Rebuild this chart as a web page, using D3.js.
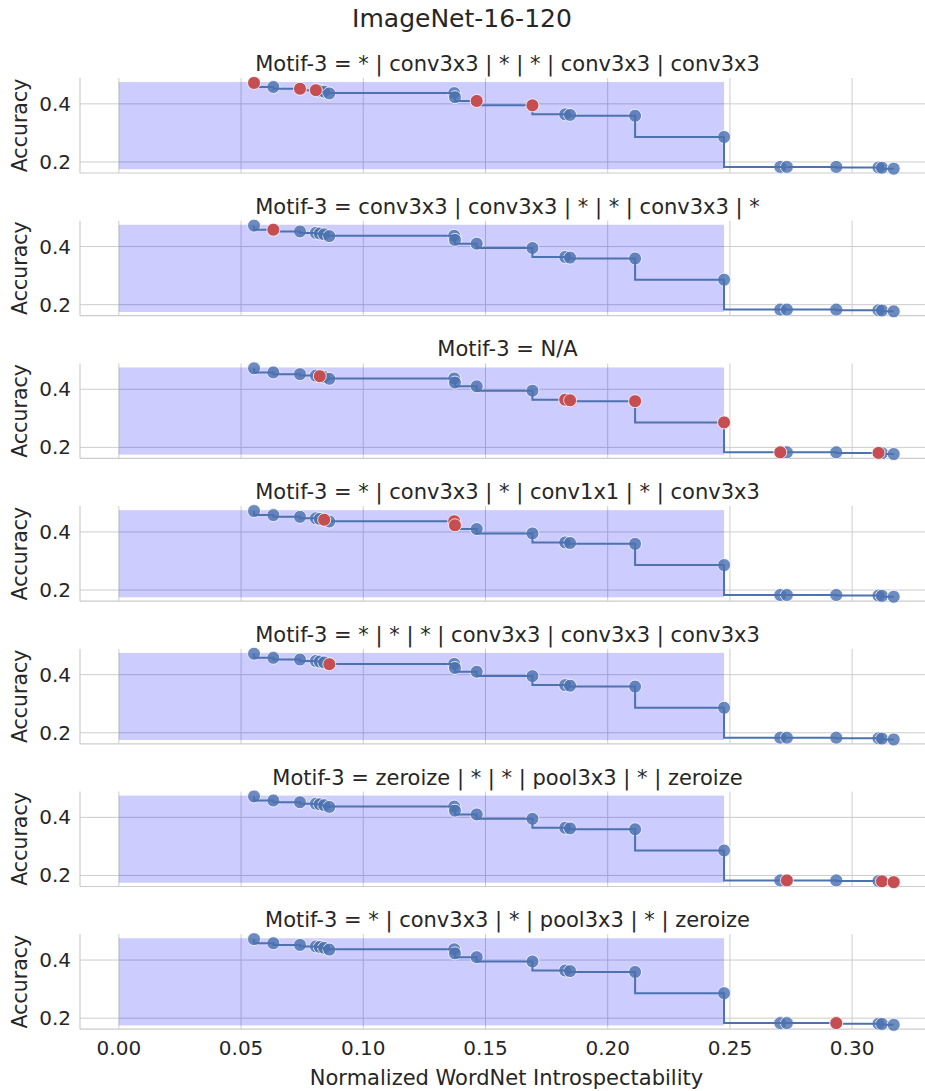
<!DOCTYPE html>
<html>
<head>
<meta charset="utf-8">
<script src="https://cdn.jsdelivr.net/npm/d3@7"></script>
<style>
  html, body { margin: 0; padding: 0; background: #fff; }
  svg { display: block; font-family: "DejaVu Sans", sans-serif; }
</style>
</head>
<body>
<svg id="chart" width="925" height="1091"></svg>
<script>
// Architectures: introspectability (x) and accuracy (y), sorted by x
const introspect = [0.0553, 0.0632, 0.0741, 0.0806, 0.0822, 0.0840, 0.0861, 0.1372, 0.1375,
  0.1464, 0.1692, 0.1826, 0.1846, 0.2112, 0.2476, 0.2706, 0.2733, 0.2935, 0.3108, 0.3122, 0.3170];
const accuracy = [0.472, 0.458, 0.452, 0.447, 0.445, 0.442, 0.436, 0.437, 0.423,
  0.410, 0.395, 0.364, 0.362, 0.359, 0.286, 0.183, 0.183, 0.183, 0.181, 0.180, 0.177];

// Motif panels and the architectures that contain each motif
const motifs = [
  "* | conv3x3 | * | * | conv3x3 | conv3x3",
  "conv3x3 | conv3x3 | * | * | conv3x3 | *",
  "N/A",
  "* | conv3x3 | * | conv1x1 | * | conv3x3",
  "* | * | * | conv3x3 | conv3x3 | conv3x3",
  "zeroize | * | * | pool3x3 | * | zeroize",
  "* | conv3x3 | * | pool3x3 | * | zeroize"
];
const motifMembers = [
  [0, 2, 3, 9, 10],
  [1],
  [4, 11, 12, 13, 14, 15, 18],
  [5, 7, 8],
  [6],
  [16, 19, 20],
  [17]
];

// Shaded region under the frontier
const regionX = [0, 0.2476];
const regionY = [0.175, 0.475];

const xTicks = [0.00, 0.05, 0.10, 0.15, 0.20, 0.25, 0.30];
const yTicks = [0.2, 0.4];

const points = introspect.map((x, i) => ({ x, y: accuracy[i], i }));

const svg = d3.select("#chart");
const left = 80, right = 935;
const panelTop = 78, panelH = 95, panelStep = 142.7;

const x = d3.scaleLinear().domain([-0.0159, 0.3339]).range([left, right]);

const ink = "#262626", gridC = "#cccccc";
const blue = "#4c72b0", red = "#c44e52";

svg.append("text")
  .attr("x", 462).attr("y", 27)
  .attr("text-anchor", "middle")
  .attr("font-size", 25).attr("fill", ink)
  .text("ImageNet-16-120");

motifs.forEach((motif, k) => {
  const top = panelTop + k * panelStep;
  const bottom = top + panelH;
  const y = d3.scaleLinear().domain([0.162, 0.489]).range([bottom, top]);
  const g = svg.append("g");

  // grid
  g.selectAll("line.vg").data(xTicks).join("line")
    .attr("x1", d => x(d)).attr("x2", d => x(d))
    .attr("y1", top).attr("y2", bottom)
    .attr("stroke", gridC).attr("stroke-width", 1);
  g.selectAll("line.hg").data(yTicks).join("line")
    .attr("x1", left).attr("x2", right)
    .attr("y1", d => y(d)).attr("y2", d => y(d))
    .attr("stroke", gridC).attr("stroke-width", 1);

  // shaded region
  g.append("rect")
    .attr("x", x(regionX[0])).attr("width", x(regionX[1]) - x(regionX[0]))
    .attr("y", y(regionY[1])).attr("height", y(regionY[0]) - y(regionY[1]))
    .attr("fill", "blue").attr("fill-opacity", 0.2);

  // spines
  g.append("line").attr("x1", left).attr("x2", left).attr("y1", top).attr("y2", bottom)
    .attr("stroke", gridC).attr("stroke-width", 1.2);
  g.append("line").attr("x1", left).attr("x2", right).attr("y1", bottom).attr("y2", bottom)
    .attr("stroke", gridC).attr("stroke-width", 1.2);

  // y tick labels
  g.selectAll("text.yt").data(yTicks).join("text")
    .attr("x", left - 9).attr("y", d => y(d))
    .attr("dy", "0.35em")
    .attr("text-anchor", "end")
    .attr("font-size", 20).attr("fill", ink)
    .text(d => d3.format(".1f")(d));

  // y axis label
  g.append("text")
    .attr("transform", `translate(27,${(top + bottom) / 2}) rotate(-90)`)
    .attr("text-anchor", "middle")
    .attr("font-size", 20.5).attr("fill", ink)
    .text("Accuracy");

  // panel title
  g.append("text")
    .attr("x", (left + right) / 2).attr("y", top - 7)
    .attr("text-anchor", "middle")
    .attr("font-size", 21).attr("fill", ink)
    .text("Motif-3 = " + motif);

  const members = new Set(motifMembers[k]);

  // all architectures
  g.selectAll("circle.all").data(points.filter(p => !members.has(p.i))).join("circle")
    .attr("cx", d => x(d.x)).attr("cy", d => y(d.y)).attr("r", 6.5)
    .attr("fill", blue).attr("fill-opacity", 0.82)
    .attr("stroke", "#fff").attr("stroke-width", 0.8);

  // frontier
  const line = d3.line().x(d => x(d.x)).y(d => y(d.y)).curve(d3.curveStepBefore);
  g.append("path").datum(points).attr("d", line)
    .attr("fill", "none").attr("stroke", blue).attr("stroke-width", 2);

  // architectures with the motif
  g.selectAll("circle.hit").data(points.filter(p => members.has(p.i))).join("circle")
    .attr("cx", d => x(d.x)).attr("cy", d => y(d.y)).attr("r", 6.5)
    .attr("fill", red)
    .attr("stroke", "#fff").attr("stroke-width", 0.8);

  // x tick labels on the last panel
  if (k === motifs.length - 1) {
    g.selectAll("text.xt").data(xTicks).join("text")
      .attr("x", d => x(d)).attr("y", bottom + 26)
      .attr("text-anchor", "middle")
      .attr("font-size", 20).attr("fill", ink)
      .text(d => d3.format(".2f")(d));
    svg.append("text")
      .attr("x", (left + right) / 2 - 1).attr("y", bottom + 56)
      .attr("text-anchor", "middle")
      .attr("font-size", 21).attr("fill", ink)
      .text("Normalized WordNet Introspectability");
  }
});
</script>
</body>
</html>
